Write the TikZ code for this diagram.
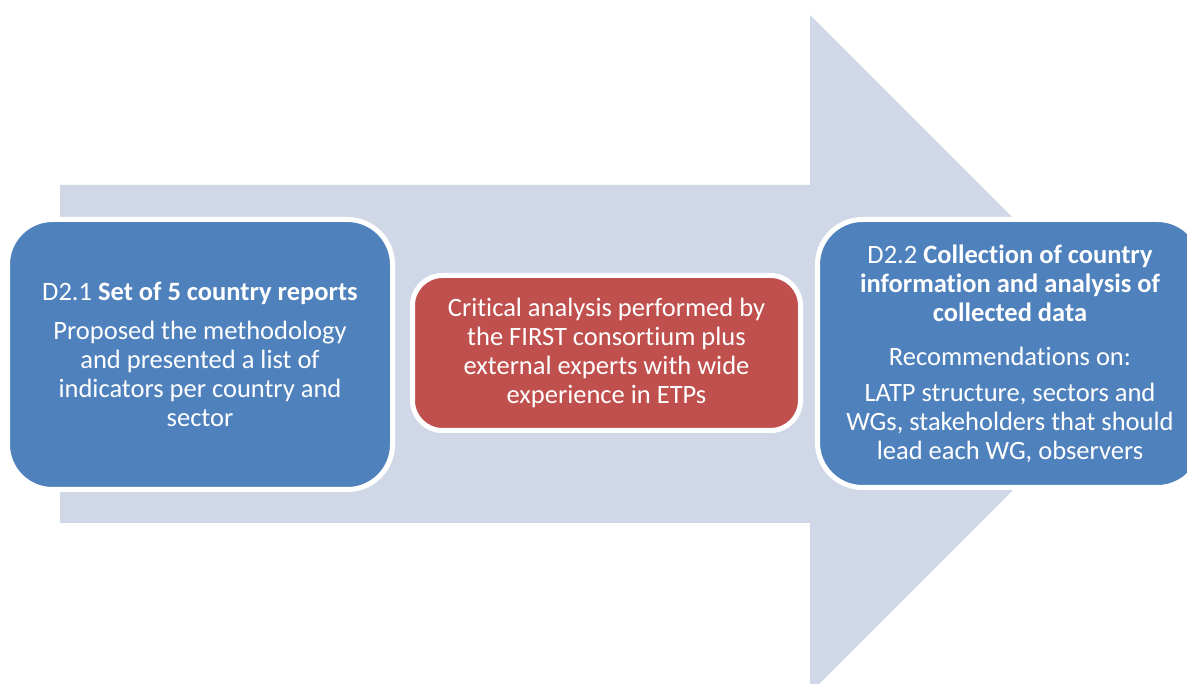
\documentclass[tikz,border=0pt]{standalone}
\usepackage{fontspec}
\setmainfont{Carlito}[Ligatures=NoCommon]
\definecolor{arrowfill}{HTML}{D0D8E8}
\definecolor{boxblue}{HTML}{4F81BD}
\definecolor{boxred}{HTML}{C0504D}
\tikzset{
  stage/.style={draw=white, line width=5pt, rounded corners=45pt, text=white,
    align=center, inner sep=0pt, font=\fontsize{26.5}{29}\selectfont},
}
\begin{document}
\begin{tikzpicture}[x=1pt,y=-1pt]
  \useasboundingbox (0,0) rectangle (1187,684);
  \clip (0,0) rectangle (1187,684);
  % Mũi tên lớn phía sau
  \coordinate (T) at (1149,354);
  \fill[arrowfill] (60,185) -- (810,185) -- (810,15) -- (T) -- (810,693)
    -- (810,523) -- (60,523) -- cycle;
  % Các khối
  \node[stage, fill=boxblue, minimum width=385pt, minimum height=270pt] (d21)
    at (200,354.5) {D2.1 \textbf{Set of 5 country reports}\\[10pt]
    Proposed the methodology\\ and presented a list of\\
    indicators per country and\\ sector};
  \node[stage, fill=boxred, rounded corners=30pt, minimum width=388pt,
    minimum height=155pt] (crit) at (606.5,353)
    {Critical analysis performed by\\ the FIRST consortium plus\\
    external experts with wide\\ experience in ETPs};
  \node[stage, fill=boxblue, minimum width=385pt, minimum height=268pt] (d22)
    at (1010,353.5) {D2.2 \textbf{Collection of country}\\
    \textbf{information and analysis of}\\ \textbf{collected data}\\[15pt]
    Recommendations on:\\[7pt] LATP structure, sectors and\\
    WGs, stakeholders that should\\ lead each WG, observers};
\end{tikzpicture}
\end{document}
